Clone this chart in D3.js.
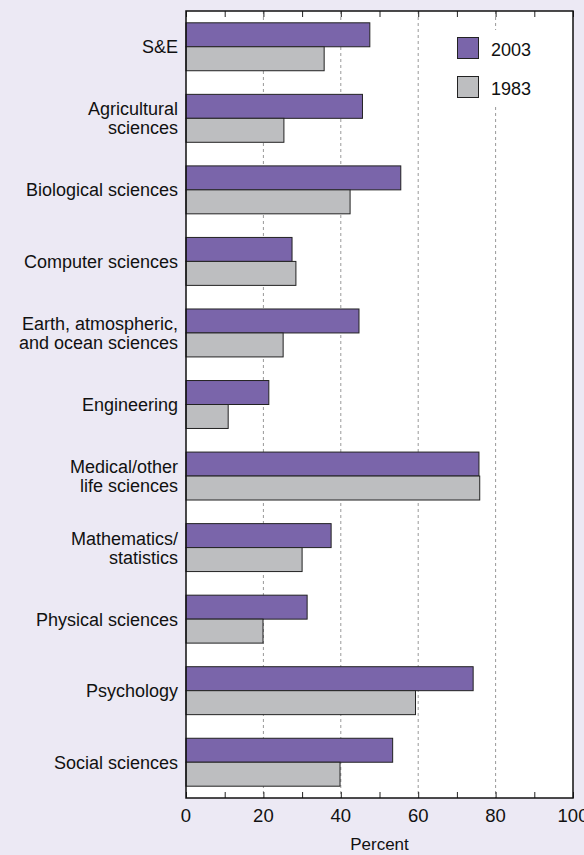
<!DOCTYPE html>
<html><head><meta charset="utf-8">
<script src="https://cdn.jsdelivr.net/npm/d3@7"></script>
<style>
html,body{margin:0;padding:0;background:#ece9f4;}
svg{display:block;font-family:"Liberation Sans",Arial,Helvetica,sans-serif;}
</style></head>
<body><svg id="c" width="584" height="855"></svg>
<script>
const categories = ["S&E","Agricultural\nsciences","Biological sciences","Computer sciences","Earth, atmospheric,\nand ocean sciences","Engineering","Medical/other\nlife sciences","Mathematics/\nstatistics","Physical sciences","Psychology","Social sciences"];
const series = ["2003","1983"];
const values2003 = [47.5,45.6,55.5,27.4,44.7,21.4,75.7,37.5,31.3,74.2,53.4];
const values1983 = [35.7,25.3,42.4,28.4,25.1,10.9,75.9,30.0,19.9,59.3,39.8];
const tickValues = [0,20,40,60,80,100];
const gridValues = [20,40,60,80];
const colors = {"2003":"#7a65aa","1983":"#bdbec0"};

const svg = d3.select("#c");
const L=186, R=573, T=11, B=798;
const x = d3.scaleLinear().domain([0,100]).range([L,R]);
const y = d3.scaleBand().domain(categories).range([T,B]).paddingInner(0.33).paddingOuter(0.165);
const ys = d3.scaleBand().domain(series).range([0,y.bandwidth()]);

svg.append("rect").attr("x",L).attr("y",T).attr("width",R-L).attr("height",B-T).attr("fill","#fff");

// grid
svg.append("g").selectAll("line").data(gridValues).join("line")
  .attr("x1",d=>x(d)).attr("x2",d=>x(d)).attr("y1",T).attr("y2",B)
  .attr("stroke","#999").attr("stroke-width",1).attr("stroke-dasharray","3,3");

// ticks top & bottom (inward)
const tickAll = d3.range(0,101,10);
svg.append("g").attr("transform",`translate(0,${B})`).call(d3.axisBottom(x).tickValues(tickAll).tickSize(-6).tickFormat(""))
  .call(g=>{g.select(".domain").remove(); g.selectAll("line").attr("stroke","#222");});
svg.append("g").attr("transform",`translate(0,${T})`).call(d3.axisTop(x).tickValues(tickAll).tickSize(-6).tickFormat(""))
  .call(g=>{g.select(".domain").remove(); g.selectAll("line").attr("stroke","#222");});

// bars
const data = categories.map((c,i)=>({c, v:{"2003":values2003[i],"1983":values1983[i]}}));
const grp = svg.append("g").selectAll("g").data(data).join("g").attr("transform",d=>`translate(0,${y(d.c)})`);
grp.selectAll("rect").data(d=>series.map(s=>({s,v:d.v[s]}))).join("rect")
  .attr("x",x(0)).attr("y",d=>ys(d.s)).attr("width",d=>x(d.v)-x(0)).attr("height",ys.bandwidth())
  .attr("fill",d=>colors[d.s]).attr("stroke","#222").attr("stroke-width",1);

// legend
const lg = svg.append("g").attr("transform","translate(446,30)");
lg.append("rect").attr("x",0).attr("y",0).attr("width",100).attr("height",74).attr("fill","#fff");
series.forEach((s,i)=>{
  lg.append("rect").attr("x",11.5).attr("y",7.5+i*39).attr("width",21).attr("height",21).attr("fill",colors[s]).attr("stroke","#222");
  lg.append("text").attr("x",45).attr("y",26+i*39).attr("font-size",18).attr("fill","#111").text(s);
});

// frame
svg.append("rect").attr("x",L).attr("y",T).attr("width",R-L).attr("height",B-T).attr("fill","none").attr("stroke","#111").attr("stroke-width",1.5);

// x tick labels
svg.append("g").selectAll("text").data(tickValues).join("text")
  .attr("x",d=>x(d)).attr("y",822).attr("text-anchor","middle").attr("font-size",18.5).attr("fill","#111").text(d=>d);
svg.append("text").attr("x",(L+R)/2).attr("y",850).attr("text-anchor","middle").attr("font-size",17).attr("fill","#111").text("Percent");

// category labels
svg.append("g").selectAll("text").data(categories).join("text")
  .attr("text-anchor","end").attr("font-size",18).attr("fill","#111")
  .each(function(d){
    const lines=d.split("\n");
    const cy=y(d)+y.bandwidth()/2;
    const t=d3.select(this);
    lines.forEach((ln,i)=>{
      t.append("tspan").attr("x",178).attr("y",cy+6.5+(i-(lines.length-1)/2)*19).text(ln);
    });
  });
</script></body></html>
